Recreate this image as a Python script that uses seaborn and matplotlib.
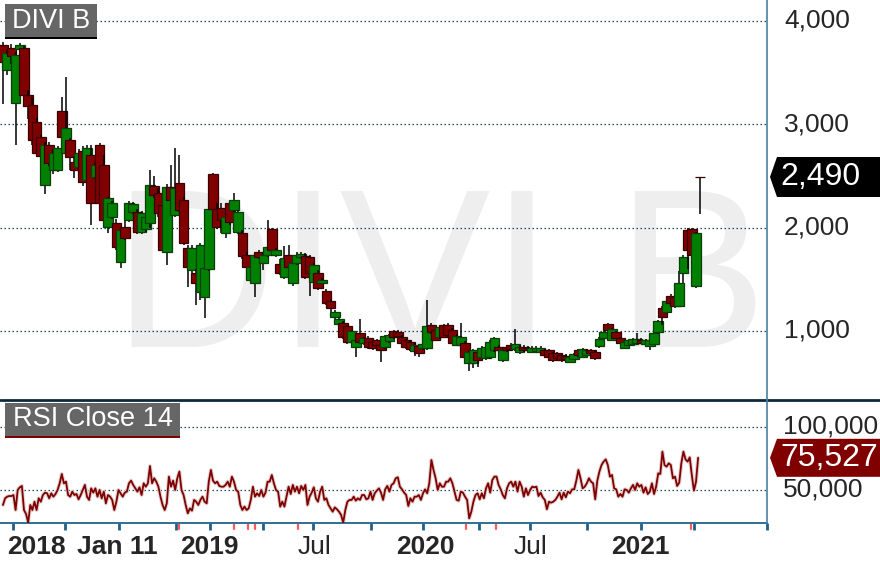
import matplotlib
matplotlib.use("Agg")
import pandas as pd
import matplotlib.pyplot as plt
import seaborn as sns
from matplotlib.patches import Rectangle, Polygon
from matplotlib.lines import Line2D
from matplotlib.transforms import blended_transform_factory

OUTPUT_PATH = "out.png"

# weekly candles, oldest first
OPEN = [
    3770, 3530, 3740, 3210, 3730, 3740, 3280, 3190, 3020, 2880,
    2413, 2800, 2558, 2558, 3130, 2723, 2849, 2636, 2588, 2742,
    2462, 2704, 2491, 2800, 2607, 2007, 2104, 2045, 1668, 2007,
    2075, 2150, 2152, 1958, 1990, 2045, 2404, 2336, 2220, 1765,
    2394, 2123, 2433, 2268, 1803, 1590, 1562, 1378, 1329, 1600,
    2520, 2181, 2190, 1949, 2239, 2171, 1958, 1949, 1736, 1494,
    1465, 1760, 1658, 1736, 1987, 1736, 1648, 1523, 1740, 1465,
    1660, 1716, 1726, 1716, 1474, 1562, 1465, 1387, 1290, 1136,
    1068, 1077, 1048, 894, 845, 980, 880, 932, 894, 913,
    865, 845, 900, 1000, 990, 942, 913, 894, 806, 855,
    835, 835, 1058, 1010, 942, 1058, 1058, 1010, 865, 865,
    884, 690, 690, 797, 748, 739, 748, 816, 845, 719,
    845, 864, 826, 797, 845, 835, 797, 810, 797, 816,
    816, 787, 787, 768, 760, 700, 730, 816, 748, 768,
    816, 797, 855, 932, 1068, 913, 990, 932, 835, 865,
    874, 884, 913, 874, 855, 874, 990, 1223, 1184, 1339,
    1329, 1242, 1562, 1978, 1987, 1436, 2490,
]
HIGH = [
    3800, 3720, 3780, 3700, 3790, 3760, 3330, 3260, 3060, 2900,
    2830, 2830, 2760, 2790, 3265, 3459, 2870, 2680, 2760, 2790,
    2800, 2800, 2630, 2820, 2700, 2300, 2260, 2080, 2000, 2104,
    2260, 2250, 2180, 2160, 2200, 2558, 2500, 2380, 2250, 2420,
    2607, 2771, 2700, 2300, 1830, 1830, 1600, 1850, 1650, 2200,
    2530, 2240, 2240, 2130, 2268, 2340, 2170, 1980, 1760, 1640,
    1750, 1780, 1760, 2075, 2000, 1800, 1700, 1820, 1830, 1680,
    1760, 1760, 1750, 1740, 1660, 1590, 1510, 1410, 1310, 1200,
    1130, 1100, 1060, 1010, 930, 1116, 945, 950, 910, 925,
    880, 965, 975, 1010, 1005, 960, 925, 910, 880, 870,
    890, 1300, 1080, 1030, 1060, 1070, 1075, 1030, 970, 1077,
    900, 820, 830, 810, 850, 860, 910, 945, 860, 830,
    860, 880, 1020, 860, 860, 850, 850, 855, 850, 830,
    830, 800, 800, 780, 775, 760, 790, 830, 840, 830,
    830, 816, 940, 1000, 1075, 1030, 1000, 945, 910, 925,
    935, 980, 930, 925, 925, 990, 1110, 1240, 1310, 1360,
    1340, 1580, 1740, 2000, 1995, 1960, 2490,
]
LOW = [
    3200, 3480, 3580, 2800, 3700, 3240, 3050, 2800, 2680, 2660,
    2330, 2600, 2520, 2540, 2860, 2700, 2560, 2480, 2560, 2400,
    2440, 2030, 2470, 2200, 2000, 1950, 2080, 1780, 1610, 1880,
    2050, 2130, 1940, 1940, 1960, 2000, 2290, 2100, 1760, 1639,
    2240, 2100, 2150, 1830, 1430, 1560, 1250, 1300, 1126, 1580,
    2160, 1990, 1950, 1900, 2030, 2150, 1940, 1700, 1600, 1480,
    1330, 1700, 1590, 1720, 1760, 1720, 1540, 1500, 1600, 1440,
    1640, 1700, 1500, 1340, 1450, 1400, 1450, 1250, 1184, 1100,
    1050, 920, 870, 880, 750, 880, 860, 830, 820, 850,
    700, 830, 880, 920, 930, 870, 830, 810, 760, 750,
    820, 820, 970, 900, 920, 930, 940, 870, 850, 850,
    700, 613, 640, 650, 730, 720, 730, 800, 800, 700,
    800, 810, 810, 780, 800, 800, 785, 795, 785, 750,
    740, 700, 720, 700, 715, 690, 720, 750, 740, 760,
    770, 720, 840, 920, 1000, 900, 920, 870, 830, 855,
    860, 870, 870, 865, 816, 860, 970, 1058, 1170, 1250,
    1220, 1230, 1460, 1600, 1494, 1420, 2133,
]
CLOSE = [
    3600, 3690, 3660, 3670, 3770, 3280, 3180, 2850, 2720, 2690,
    2800, 2626, 2723, 2771, 2880, 2965, 2684, 2558, 2723, 2442,
    2771, 2239, 2607, 2239, 2075, 2288, 2239, 1813, 1978, 1900,
    2239, 2230, 1958, 2142, 2100, 2413, 2316, 2142, 1784, 2394,
    2268, 2384, 2172, 1852, 1620, 1803, 1465, 1833, 1610, 2181,
    2181, 2007, 2075, 2104, 2055, 2268, 2152, 1726, 1620, 1620,
    1736, 1720, 1736, 1813, 1784, 1784, 1562, 1707, 1620, 1658,
    1736, 1745, 1523, 1562, 1639, 1416, 1494, 1271, 1223, 1184,
    1116, 942, 894, 1000, 913, 894, 930, 845, 835, 865,
    816, 952, 960, 942, 950, 884, 845, 826, 865, 787,
    874, 1048, 990, 913, 1039, 942, 961, 884, 952, 942,
    748, 797, 816, 719, 835, 845, 894, 932, 816, 816,
    816, 826, 874, 845, 816, 816, 835, 840, 835, 770,
    748, 719, 739, 719, 730, 748, 780, 768, 826, 816,
    787, 739, 923, 990, 1010, 1020, 932, 884, 893, 913,
    923, 923, 884, 913, 913, 980, 1097, 1136, 1290, 1271,
    1242, 1465, 1716, 1784, 1736, 1949, 2490,
]

# RSI(14) on close, two readings per weekly candle
RSI = [
    38.1, 43.4, 44.7, 45.2, 45.2, 46.0, 34.1, 50.0, 52.1, 53.2,
    34.1, 30.9, 24.1, 38.1, 34.1, 40.7, 34.1, 43.4, 40.7, 46.0,
    47.9, 47.4, 43.4, 47.4, 44.7, 46.8, 50.0, 55.3, 62.7, 55.3,
    56.6, 46.0, 44.7, 48.7, 46.0, 46.8, 42.6, 46.0, 50.0, 54.0,
    44.7, 42.1, 51.3, 47.9, 51.3, 44.7, 50.0, 43.4, 48.7, 39.4,
    46.0, 44.7, 42.1, 34.1, 40.7, 50.0, 47.4, 44.7, 47.9, 48.7,
    55.3, 57.4, 54.0, 51.3, 48.7, 52.1, 46.0, 55.3, 52.6, 55.3,
    69.0, 55.3, 59.3, 56.6, 52.6, 44.7, 38.1, 34.1, 39.4, 60.6,
    52.6, 57.4, 50.0, 59.3,
    64.6, 50.0, 46.0, 38.1, 31.5, 35.4, 33.6, 42.1, 40.7, 38.1,
    42.1, 44.7, 40.7, 39.4, 56.6, 65.9, 57.4, 55.3, 56.6, 53.2,
    52.6, 52.6, 54.0, 56.6, 52.6, 60.6, 56.6, 50.0, 48.7, 38.1,
    34.1, 36.8, 34.1, 35.4, 42.1, 52.6, 44.7, 47.4, 45.2, 50.0,
    44.7, 47.9, 56.6, 56.6, 61.9, 55.3, 50.0, 48.7, 36.8, 40.7,
    36.8, 44.7, 52.6, 46.8, 54.0, 48.7, 52.6, 47.4, 53.2, 50.0,
    54.0, 38.1, 44.7, 47.9, 52.1, 43.4, 40.7, 48.7, 52.6, 42.1,
    43.4, 38.1, 35.4, 32.8, 36.2, 34.7, 32.8, 30.2, 24.1, 34.1,
    40.7, 42.1, 42.1, 44.7,
    41.5, 43.4, 42.1, 46.0, 46.0, 42.6, 43.4, 48.7, 42.1, 47.4,
    49.5, 51.3, 47.9, 42.1, 50.5, 53.2, 48.7, 54.0, 55.3, 59.3,
    60.1, 52.6, 50.5, 47.9, 46.0, 37.3, 43.4, 40.7, 44.7, 44.7,
    46.0, 42.1, 47.4, 50.5, 47.4, 55.3, 73.8, 65.9, 59.3, 50.0,
    55.3, 52.6, 52.6, 56.6, 56.6, 59.3, 55.3, 48.7, 42.1, 41.5,
    48.7, 47.9, 44.7, 42.1, 27.5, 32.8, 40.7, 46.0, 47.4, 42.6,
    47.4, 43.4, 51.3, 55.3, 47.9, 57.9, 60.6, 60.6, 54.0, 50.5,
    46.0, 43.4, 51.3, 55.3, 56.6, 52.6, 56.6, 48.7, 56.6, 52.6,
    44.7, 51.3, 46.0,
    50.0, 52.6, 52.1, 52.6, 45.2, 47.9, 44.2, 42.1, 34.7, 40.7,
    39.9, 40.7, 42.1, 44.7, 47.9, 42.6, 47.9, 44.2, 48.7, 47.4,
    50.5, 50.5, 57.4, 65.9, 59.3, 51.3, 52.6, 55.3, 59.3, 56.6,
    55.3, 42.6, 57.4, 64.6, 69.8, 72.5, 74.3, 69.8, 60.6, 61.9,
    51.3, 50.5, 44.7, 46.8, 44.7, 50.5, 50.0, 47.9, 51.3, 54.0,
    50.0, 55.3, 52.6, 54.0, 47.9, 52.1, 46.8, 48.7, 55.3, 46.8,
    52.6, 63.2, 62.7, 80.4, 69.8, 68.5, 71.2, 69.8, 59.3, 60.6,
    53.2, 55.8, 71.2, 80.4, 74.3, 72.5, 75.9, 61.9, 49.5, 56.6,
    75.527,
]

LAST_PRICE = 2490
LAST_RSI = 75.527
PRICE_TICKS = [1000, 2000, 3000, 4000]
RSI_TICKS = [50, 100]
X_LABELS = ["2018", "Jan 11", "2019", "Jul", "2020", "Jul", "2021"]

# layout (candle index units / pixels)
W, H = 880, 567
AX_RIGHT = 767
X_LIM = (-0.71, 181.9)
X_LABEL_POS = [7.86, 27.14, 49.05, 74.05, 100.48, 125.48, 151.67]
TICK_POS = [2.31, 14.76, 27.62, 41.19, 49.29, 61.9, 73.81, 87.62, 100.0,
            113.33, 125.48, 139.05, 151.9, 164.52, 181.9]
EVENT_POS = [41.9, 55.0, 58.33, 60.0, 70.24, 110.24, 117.38, 163.81]

GREEN, GREEN_EDGE = "#008000", "#0b3d0b"
RED, RED_EDGE = "#800000", "#3a0000"
GRID = "#1d4656"
AXIS_BLUE = "#2f6f95"
FONT = ["Liberation Sans", "DejaVu Sans"]


def to_fig(px, py):
    return px / W, 1 - py / H


def label_box(fig, x0, y0, x1, y1, text, line_color):
    fx, fy = to_fig(x0, y1)
    fig.add_artist(Rectangle((fx, fy), (x1 - x0) / W, (y1 - y0) / H,
                             transform=fig.transFigure, fc="#666666", ec="none"))
    fx, fy = to_fig(x0, y1 + 2)
    fig.add_artist(Rectangle((fx, fy), (x1 - x0) / W, 2 / H,
                             transform=fig.transFigure, fc=line_color, ec="none"))
    cx, cy = to_fig((x0 + x1) / 2, (y0 + y1) / 2)
    fig.text(cx, cy, text, color="white", fontsize=19.5, ha="center", va="center")


def value_tag(fig, ax, value, text, color, half):
    py = H - ax.transData.transform((0, value))[1]
    pts = [to_fig(770, py), to_fig(777, py - half), to_fig(W, py - half),
           to_fig(W, py + half), to_fig(777, py + half)]
    fig.add_artist(Polygon(pts, closed=True, transform=fig.transFigure,
                           fc=color, ec="none", zorder=5))
    tx, ty = to_fig(780, py)
    fig.text(tx, ty, text, color="white", fontsize=23, ha="left", va="center", zorder=6)


def main():
    sns.set_style("white")
    plt.rcParams["font.family"] = FONT

    fig = plt.figure(figsize=(W / 100, H / 100), dpi=100)
    ax = fig.add_axes([0, 1 - 400 / H, AX_RIGHT / W, 400 / H])
    ax_rsi = fig.add_axes([0, 1 - 523 / H, AX_RIGHT / W, 123 / H])

    # price panel
    ax.set_xlim(*X_LIM)
    ax.set_ylim(332, 4203)
    ax.set_xticks([])
    ax.set_yticks([])
    for s in ax.spines.values():
        s.set_visible(False)
    ax.text(0.574, 0.1325, "DIVI B", transform=ax.transAxes, ha="center",
            va="baseline", fontsize=163, color="#eeeeee", zorder=0)
    for v in PRICE_TICKS:
        ax.axhline(v, color=GRID, lw=0.9, ls=(0, (1.2, 2)), zorder=1)

    for i in range(len(CLOSE)):
        up = CLOSE[i] > OPEN[i]
        z = 3 + i * 0.01
        ax.vlines(i, LOW[i], HIGH[i], color="black", lw=1.1, zorder=z)
        body = max(abs(CLOSE[i] - OPEN[i]), 4)
        ax.bar(i, body, width=2.3, bottom=min(OPEN[i], CLOSE[i]),
               color=GREEN if up else RED, edgecolor=GREEN_EDGE if up else RED_EDGE,
               linewidth=0.9, zorder=z + 0.005)

    trans = blended_transform_factory(ax.transAxes, ax.transData)
    for v in PRICE_TICKS:
        ax.text(1 + 17 / AX_RIGHT, v, f"{v:,}", transform=trans, ha="left",
                va="center", fontsize=19, clip_on=False)

    # RSI panel
    rsi_df = pd.DataFrame({"x": [j / 2 for j in range(len(RSI))], "rsi": RSI})
    ax_rsi.set_xlim(*X_LIM)
    ax_rsi.set_ylim(23.8, 121.4)
    for v in RSI_TICKS:
        ax_rsi.axhline(v, color=GRID, lw=0.9, ls=(0, (1.2, 2)), zorder=1)
    sns.lineplot(data=rsi_df, x="x", y="rsi", ax=ax_rsi, color="#e2d0d0",
                 linewidth=2.8, zorder=2)
    sns.lineplot(data=rsi_df, x="x", y="rsi", ax=ax_rsi, color="#800000",
                 linewidth=1.3, zorder=3)
    ax_rsi.set_xlabel("")
    ax_rsi.set_ylabel("")
    ax_rsi.set_yticks([])
    for name, s in ax_rsi.spines.items():
        s.set_visible(name == "bottom")
    ax_rsi.spines["bottom"].set_color(AXIS_BLUE)
    ax_rsi.spines["bottom"].set_linewidth(1.4)

    trans_r = blended_transform_factory(ax_rsi.transAxes, ax_rsi.transData)
    for v in RSI_TICKS:
        ax_rsi.text(1 + 16 / AX_RIGHT, v, f"{v:.3f}".replace(".", ","),
                    transform=trans_r, ha="left", va="center", fontsize=19, clip_on=False)

    ax_rsi.xaxis.remove_overlapping_locs = False
    ax_rsi.set_xticks(X_LABEL_POS)
    ax_rsi.set_xticklabels(X_LABELS, fontsize=19)
    for lbl, txt in zip(ax_rsi.get_xticklabels(), X_LABELS):
        lbl.set_fontweight("normal" if txt == "Jul" else "bold")
    ax_rsi.set_xticks(TICK_POS, minor=True)
    ax_rsi.tick_params(axis="x", which="both", bottom=True)
    ax_rsi.tick_params(axis="x", which="major", length=0, pad=9)
    ax_rsi.tick_params(axis="x", which="minor", length=5, width=2,
                       color="#1f5f8b", direction="out")
    xt = ax_rsi.get_xaxis_transform()
    for p in EVENT_POS:
        ax_rsi.plot([p, p], [0, -0.045], transform=xt, color="#ff5a5a",
                    lw=1.6, clip_on=False)

    # frame lines
    fig.add_artist(Line2D([0, 1], [1 - 400 / H] * 2, transform=fig.transFigure,
                          color="#0b2b3c", lw=2))
    fig.add_artist(Line2D([AX_RIGHT / W] * 2, [1, 1 - 523 / H], transform=fig.transFigure,
                          color="#4a7fa6", lw=1.2))

    label_box(fig, 5, 4, 97, 37, "DIVI B", "black")
    label_box(fig, 5, 403, 180, 436, "RSI Close 14", "#800000")
    value_tag(fig, ax, LAST_PRICE, f"{LAST_PRICE:,}", "black", 20)
    value_tag(fig, ax_rsi, LAST_RSI, f"{LAST_RSI:.3f}".replace(".", ","), "#800000", 19)

    fig.savefig(OUTPUT_PATH, dpi=100)
    plt.close(fig)


if __name__ == "__main__":
    main()
